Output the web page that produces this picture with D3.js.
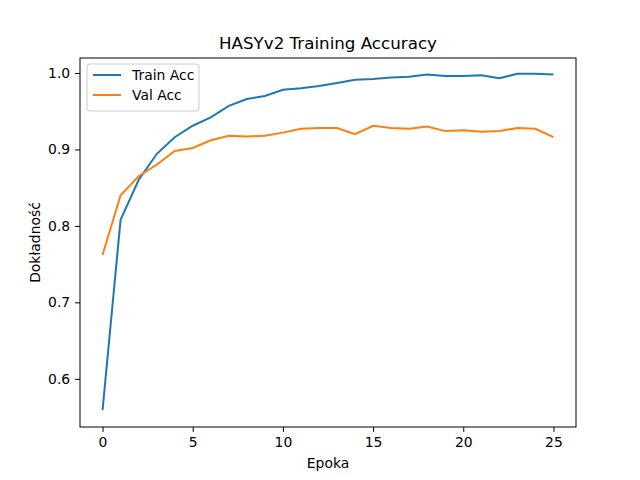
<!DOCTYPE html>
<html>
<head>
<meta charset="UTF-8">
<script src="https://d3js.org/d3.v7.min.js"></script>
<style>
  body { margin: 0; background: #fff; }
  svg { display: block; font-family: "DejaVu Sans", sans-serif; }
</style>
</head>
<body>
<svg id="chart" width="640" height="480"></svg>
<script>
const epochs = d3.range(0, 26);
const trainAcc = [0.559, 0.808, 0.860, 0.894, 0.916, 0.931, 0.942, 0.957, 0.966, 0.970,
  0.978, 0.980, 0.983, 0.987, 0.991, 0.992, 0.994, 0.995, 0.998, 0.996,
  0.996, 0.997, 0.993, 0.999, 0.999, 0.998];
const valAcc = [0.762, 0.840, 0.865, 0.880, 0.898, 0.902, 0.912, 0.918, 0.917, 0.918,
  0.922, 0.927, 0.928, 0.928, 0.920, 0.931, 0.928, 0.927, 0.930, 0.924,
  0.925, 0.923, 0.924, 0.928, 0.927, 0.916];
const xTicks = [0, 5, 10, 15, 20, 25];
const yTicks = [0.6, 0.7, 0.8, 0.9, 1.0];
const series = [
  { name: 'Train Acc', values: trainAcc, color: '#1f77b4' },
  { name: 'Val Acc', values: valAcc, color: '#ff7f0e' },
];

const L = 80, R = 576, T = 58, B = 427;
const svg = d3.select('#chart');
const x = d3.scaleLinear().domain([-1.25, 26.25]).range([L, R]);
const y = d3.scaleLinear().domain([0.537, 1.0196]).range([B, T]);

const xAxis = svg.append('g').attr('transform', `translate(0,${B})`)
  .call(d3.axisBottom(x).tickValues(xTicks).tickFormat(d3.format('d')).tickSize(4.9).tickPadding(4.9));
const yAxis = svg.append('g').attr('transform', `translate(${L},0)`)
  .call(d3.axisLeft(y).tickValues(yTicks).tickFormat(d3.format('.1f')).tickSize(4.9).tickPadding(4.9));
[xAxis, yAxis].forEach(a => {
  a.select('.domain').remove();
  a.selectAll('text').attr('font-size', 13.9).attr('fill', '#000').attr('font-family', 'DejaVu Sans');
  a.selectAll('line').attr('stroke', '#000');
});
xAxis.selectAll('text').attr('dy', '0.75em');

const line = d3.line().x((d, i) => x(epochs[i])).y(d => y(d));
series.forEach(s => {
  svg.append('path').datum(s.values).attr('d', line)
    .attr('fill', 'none').attr('stroke', s.color).attr('stroke-width', 2);
});

svg.append('rect').attr('x', L).attr('y', T).attr('width', R - L).attr('height', B - T)
  .attr('fill', 'none').attr('stroke', '#000').attr('stroke-width', 1);

svg.append('text').attr('x', (L + R) / 2).attr('y', T - 9).attr('text-anchor', 'middle')
  .attr('font-size', 16.7).text('HASYv2 Training Accuracy');
svg.append('text').attr('x', (L + R) / 2).attr('y', 468).attr('text-anchor', 'middle')
  .attr('font-size', 13.9).text('Epoka');
svg.append('text').attr('transform', `translate(40,${(T + B) / 2}) rotate(-90)`)
  .attr('text-anchor', 'middle').attr('font-size', 13.9).text('Dokładność');

const lg = svg.append('g').attr('transform', `translate(${L + 7},${T + 6})`);
lg.append('rect').attr('width', 112).attr('height', 47).attr('rx', 3)
  .attr('fill', '#fff').attr('fill-opacity', 0.8).attr('stroke', '#ccc');
series.forEach((s, i) => {
  const yy = 11 + i * 20;
  lg.append('line').attr('x1', 6).attr('x2', 34).attr('y1', yy).attr('y2', yy)
    .attr('stroke', s.color).attr('stroke-width', 2);
  lg.append('text').attr('x', 45).attr('y', yy + 5).attr('font-size', 13.9).text(s.name);
});
</script>
</body>
</html>
